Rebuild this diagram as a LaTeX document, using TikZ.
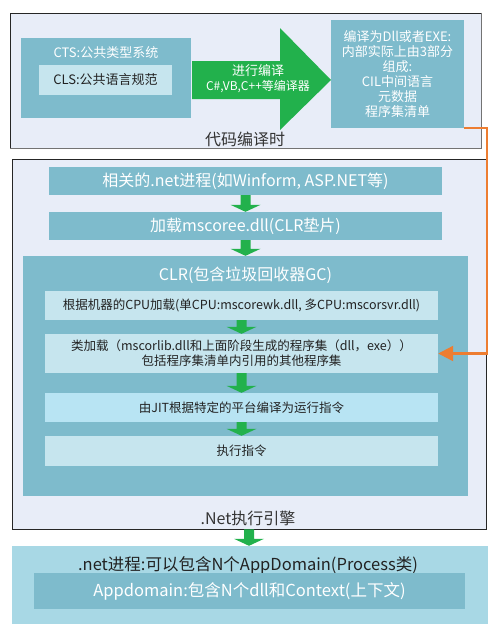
\documentclass[tikz,border=0pt]{standalone}
\usepackage{fontspec}
\setmainfont{Noto Sans CJK SC}
\usetikzlibrary{calc,arrows.meta}
\definecolor{framefill}{HTML}{E8EDF8}
\definecolor{tealc}{HTML}{7EBBCC}
\definecolor{palec}{HTML}{C6E5EE}
\definecolor{jitc}{HTML}{B8E4F3}
\definecolor{botc}{HTML}{A8D8E5}
\definecolor{txtc}{HTML}{222222}
\definecolor{labc}{HTML}{333333}
\definecolor{greenc}{HTML}{22B14C}
\definecolor{orangec}{HTML}{ED7D31}
\newcommand\greendown[2]{\fill[garrow] let \p1=(#1.south), \p2=(#2.north) in
  (\x1-5pt,\y1) -- (\x1+5pt,\y1) -- (\x1+5pt,\y2+7pt) -- (\x1+15pt,\y2+7pt) --
  (\x1,\y2) -- (\x1-15pt,\y2+7pt) -- (\x1-5pt,\y2+7pt) -- cycle;}
\begin{document}
\begin{tikzpicture}[x=1pt,y=-1pt,
  sz/.style 2 args={minimum width=#1pt, minimum height=#2pt},
  frame/.style={draw=black!85, line width=0.9pt, fill=framefill, inner sep=0pt},
  tealbox/.style={fill=tealc, inner sep=0pt, text=white},
  palebox/.style={fill=palec, inner sep=0pt, text=txtc},
  garrow/.style={fill=greenc},
  orangeline/.style={draw=orangec, line width=2.2pt, -{Triangle[length=15pt,width=15pt]}},
  lab/.style={text=labc, inner sep=0pt, font=\fontsize{16}{16}\selectfont}
]
\useasboundingbox (0,0) rectangle (490,624);
% ---------- compile time ----------
\node[frame, sz={471}{135}] (top) at (245.5,80.5) {};
\draw[black!55, line width=1.6pt] (top.north east) -- (top.south east) -- (top.south west);
\node[tealbox, sz={170}{80}] (cts) at (106,78) {};
\node[text=white, inner sep=0pt, font=\fontsize{13}{13}\selectfont] (ctst) at (106,53) {CTS:公共类型系统};
\node[palebox, sz={133}{30}, font=\fontsize{13}{13}\selectfont] (cls) at (105.5,80) {CLS:公共语言规范};
\fill[garrow] (192,61) -- (280,61) -- (280,28) -- (331,80) -- (280,130) -- (280,99) -- (192,99) -- cycle;
\node[text=white, inner sep=0pt, font=\fontsize{13}{13}\selectfont] (cmp1) at (258,71) {进行编译};
\node[text=white, inner sep=0pt, font=\fontsize{12}{12}\selectfont] (cmp2) at (258,87) {C\#,VB,C++等编译器};
\node[tealbox, sz={133}{108}, align=center, font=\fontsize{13}{15}\selectfont] (rb) at (397.5,74)
  {编译为Dll或者EXE:\\内部实际上由3部分\\组成:\\CIL中间语言\\元数据\\程序集清单};
\node[lab] (toplab) at (245,139) {代码编译时};
% ---------- execution engine ----------
\node[frame, sz={474}{370}] (mid) at (249,344) {};
\node[tealbox, sz={393}{28}, font=\fontsize{16}{16}\selectfont] (p1) at (245.5,181) {相关的.net进程(如Winform, ASP.NET等)};
\node[tealbox, sz={393}{28}, font=\fontsize{16}{16}\selectfont] (p2) at (245.5,226) {加载mscoree.dll(CLR垫片)};
\node[tealbox, sz={445}{240}] (clr) at (245.5,376) {};
\node[text=white, inner sep=0pt, font=\fontsize{16}{16}\selectfont] (clrt) at (245.5,275) {CLR(包含垃圾回收器GC)};
\node[palebox, sz={393}{29}, font=\fontsize{12.5}{12.5}\selectfont] (c1) at (241.5,305.5) {根据机器的CPU加载(单CPU:mscorewk.dll, 多CPU:mscorsvr.dll)};
\node[palebox, sz={393}{39}, align=center, font=\fontsize{12.5}{15}\selectfont] (c2) at (241.5,353.5) {类加载（mscorlib.dll和上面阶段生成的程序集（dll，exe））\\包括程序集清单内引用的其他程序集};
\node[fill=jitc, inner sep=0pt, text=txtc, sz={393}{29}, font=\fontsize{12.5}{12.5}\selectfont] (c3) at (241.5,407.5) {由JIT根据特定的平台编译为运行指令};
\node[palebox, sz={393}{30}, font=\fontsize{12.5}{12.5}\selectfont] (c4) at (241.5,451) {执行指令};
\node[lab] (midlab) at (248,518) {.Net执行引擎};
% ---------- process ----------
\node[fill=botc, inner sep=0pt, sz={476}{78}] (bot) at (250,585) {};
\node[text=txtc, inner sep=0pt, font=\fontsize{16.5}{16.5}\selectfont] (bott) at (248,565) {.net进程:可以包含N个AppDomain(Process类)};
\node[tealbox, sz={431}{36}, font=\fontsize{16.5}{16.5}\selectfont] (app) at (249.5,591) {Appdomain:包含N个dll和Context(上下文)};
% ---------- arrows ----------
\greendown{p1}{p2}
\greendown{p2}{clr}
\greendown{c1}{c2}
\greendown{c2}{c3}
\greendown{c3}{c4}
\greendown{mid}{bot}
\draw[orangeline] (rb.south east) -- ++(23,0) |- (c2.east);
\end{tikzpicture}
\end{document}
